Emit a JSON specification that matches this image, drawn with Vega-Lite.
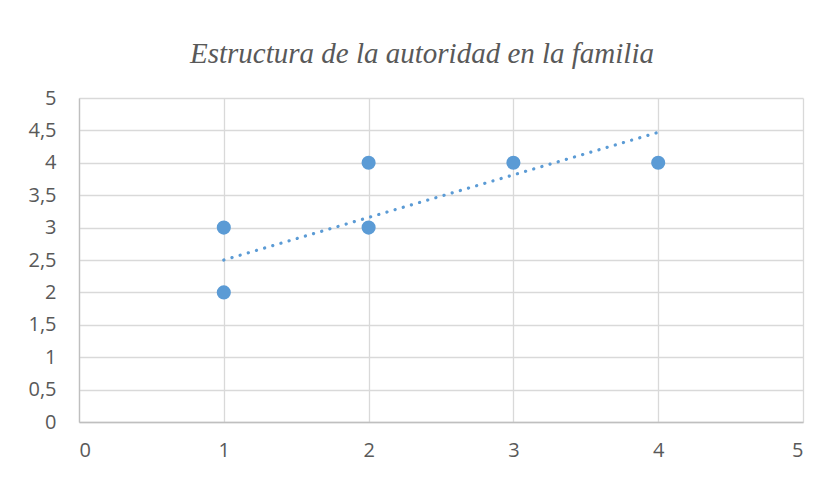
{
  "$schema": "https://vega.github.io/schema/vega-lite/v6.json",
  "autosize": "none",
  "width": 724,
  "height": 324,
  "padding": {"left": 79, "top": 98, "right": 20, "bottom": 55},
  "background": "white",
  "title": {
    "text": "Estructura de la autoridad en la familia",
    "font": "Liberation Serif",
    "fontStyle": "italic",
    "fontWeight": "normal",
    "fontSize": 29,
    "color": "#595959",
    "anchor": "middle",
    "dx": -19,
    "offset": 19
  },
  "config": {
    "view": {"stroke": null},
    "axis": {
      "labelFont": "Open Sans",
      "labelFontSize": 20,
      "labelColor": "#595959",
      "gridColor": "#D9D9D9",
      "gridWidth": 1.3,
      "domainColor": "#BFBFBF",
      "domainWidth": 1.3,
      "ticks": false,
      "title": null,
      "labelOverlap": false
    }
  },
  "datasets": {
    "points": [
      {"x": 1, "y": 3},
      {"x": 1, "y": 2},
      {"x": 2, "y": 4},
      {"x": 2, "y": 3},
      {"x": 3, "y": 4},
      {"x": 4, "y": 4}
    ],
    "trend": [
      {"x": 1, "y": 2.5},
      {"x": 4, "y": 4.47}
    ]
  },
  "encoding": {
    "x": {"field": "x", "type": "quantitative", "scale": {"domain": [0, 5], "nice": false}, "axis": {"values": [0, 1, 2, 3, 4, 5], "labelFontSize": 20, "labelPadding": 18, "grid": true, "domain": true, "labelExpr": "toString(datum.value)"}},
    "y": {"field": "y", "type": "quantitative", "scale": {"domain": [0, 5], "nice": false}, "axis": {"values": [0, 0.5, 1, 1.5, 2, 2.5, 3, 3.5, 4, 4.5, 5], "labelFontSize": 20, "labelPadding": 23, "domain": true, "labelExpr": "replace(toString(datum.value), '.', ',')"}}
  },
  "layer": [
    {
      "data": {"name": "trend"},
      "mark": {"type": "line", "color": "#5B9BD5", "strokeWidth": 3.2, "strokeDash": [0.1, 8.4], "strokeCap": "round"}
    },
    {
      "data": {"name": "points"},
      "mark": {"type": "point", "filled": true, "shape": "circle", "size": 200, "color": "#5B9BD5", "opacity": 1}
    }
  ]
}
